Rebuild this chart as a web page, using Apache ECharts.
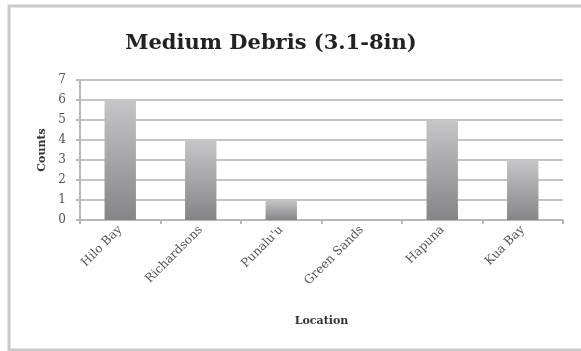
<!DOCTYPE html>
<html>
<head>
<meta charset="utf-8">
<script src="https://cdn.jsdelivr.net/npm/echarts@6/dist/echarts.min.js"></script>
<style>
  html, body { margin: 0; padding: 0; background: #fff; overflow: hidden; }
  #chart { width: 581px; height: 351px; }
</style>
</head>
<body>
<div id="chart"></div>
<script>
const locations = ['Hilo Bay', 'Richardsons', "Punalu'u", 'Green Sands', 'Hapuna', 'Kua Bay']
const counts = [6, 4, 1, 0, 5, 3]
const yTicks = [0, 7, 1] // min, max, interval

const chart = echarts.init(document.getElementById('chart'))
const serif = "'DejaVu Serif', serif"

const option = {
  backgroundColor: '#fff',
  animation: false,
  graphic: [
    {
      type: 'rect',
      shape: { x: 9, y: 6, width: 700, height: 344 },
      style: { fill: 'none', stroke: '#c9c9c9', lineWidth: 3 }
    }
  ],
  title: {
    text: 'Medium Debris (3.1-8in)',
    left: 266,
    top: 28,
    textAlign: 'center',
    textStyle: { fontFamily: serif, fontWeight: 'bold', fontSize: 21, color: '#222' }
  },
  grid: { left: 80, right: 18, top: 80, bottom: 131 },
  xAxis: {
    type: 'category',
    data: locations,
    name: 'Location',
    nameLocation: 'middle',
    nameGap: 96,
    nameTextStyle: { fontFamily: serif, fontWeight: 'bold', fontSize: 11, color: '#333' },
    axisLine: { lineStyle: { color: '#b8b8b8', width: 2 } },
    axisTick: { show: true, length: 4, lineStyle: { color: '#b8b8b8', width: 2 } },
    axisLabel: { rotate: 45, fontFamily: serif, fontSize: 12, color: '#555', margin: 8 }
  },
  yAxis: {
    type: 'value',
    min: yTicks[0],
    max: yTicks[1],
    interval: yTicks[2],
    name: 'Counts',
    nameLocation: 'middle',
    nameGap: 31,
    nameTextStyle: { fontFamily: serif, fontWeight: 'bold', fontSize: 11, color: '#333' },
    axisLine: { show: true, lineStyle: { color: '#b8b8b8', width: 2 } },
    axisTick: { show: true, length: 4, lineStyle: { color: '#b8b8b8', width: 2 } },
    axisLabel: { fontFamily: serif, fontSize: 12, color: '#555', margin: 14 },
    splitLine: { lineStyle: { color: '#c4c4c4', width: 2 } }
  },
  series: [
    {
      type: 'bar',
      data: counts,
      barWidth: '39%',
      itemStyle: {
        color: new echarts.graphic.LinearGradient(0, 0, 0, 1, [
          { offset: 0, color: '#c6c6c8' },
          { offset: 1, color: '#858587' }
        ])
      }
    }
  ]
}
chart.setOption(option)
</script>
</body>
</html>
